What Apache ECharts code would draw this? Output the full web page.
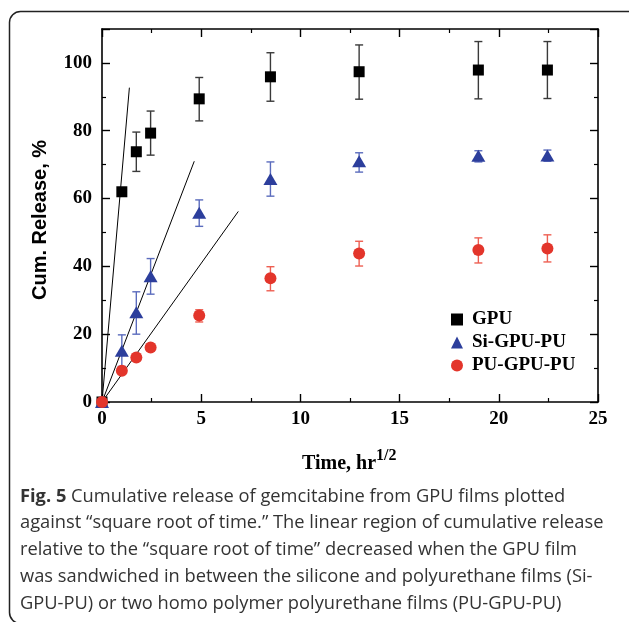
<!DOCTYPE html>
<html>
<head>
<meta charset="utf-8">
<script src="https://cdn.jsdelivr.net/npm/echarts@6/dist/echarts.min.js"></script>
<style>
html,body{margin:0;padding:0;background:#fff;}
#c{width:629px;height:622px;}
</style>
</head>
<body>
<div id="c"></div>
<script>
// sqrt(time) in hr^1/2
const xSqrt   = [0, 1, 1.73, 2.45, 4.90, 8.49, 12.96, 18.97, 22.45];
// GPU
const gpuMean = [0, 62.0, 73.8, 79.3, 89.4, 95.9, 97.4, 97.9, 97.9];
const gpuLow  = [0, 61.0, 68.0, 72.8, 82.9, 88.7, 89.3, 89.4, 89.5];
const gpuHigh = [0, 63.0, 79.6, 85.8, 95.7, 103.0, 105.3, 106.3, 106.3];
// Si-GPU-PU
const siMean  = [0, 15.1, 26.5, 37.1, 55.8, 65.8, 71.0, 72.6, 72.7];
const siLow   = [0, 10.5, 20.0, 31.8, 51.8, 60.7, 67.8, 70.8, 71.0];
const siHigh  = [0, 19.8, 32.5, 42.3, 59.6, 70.8, 73.5, 74.1, 74.3];
// PU-GPU-PU
const puMean  = [0, 9.2, 13.1, 16.1, 25.5, 36.5, 43.8, 44.8, 45.3];
const puLow   = [0, 8.5, 12.5, 15.5, 23.6, 32.8, 40.1, 41.0, 41.3];
const puHigh  = [0, 10.0, 13.8, 16.8, 27.2, 39.9, 47.4, 48.4, 49.3];
// linear fit segments (start, end)
const fitGpuX = [0, 1.38], fitGpuY = [0, 92.7];
const fitSiX  = [0, 4.65], fitSiY  = [0, 71.0];
const fitPuX  = [0, 6.87], fitPuY  = [0, 56.2];
// axis ticks
const xTicks = [0, 5, 10, 15, 20, 25];
const yTicks = [0, 20, 40, 60, 80, 100];
const seriesNames = ['GPU', 'Si-GPU-PU', 'PU-GPU-PU'];

const chart = echarts.init(document.getElementById('c'), null, {renderer: 'canvas'});
const serif = '"Liberation Serif", "Times New Roman", serif';
const capFont = '"Open Sans", "Noto Sans", sans-serif';

function pts(xs, ys) { return xs.map((x, i) => [x, ys[i]]); }
function errData(xs, lo, hi) { return xs.map((x, i) => [x, lo[i], hi[i]]); }
function errSeries(data, color) {
  return {
    type: 'custom', data: data, z: 2, silent: true,
    renderItem: function (params, api) {
      const x = api.value(0);
      const p1 = api.coord([x, api.value(1)]);
      const p2 = api.coord([x, api.value(2)]);
      const w = 4;
      const st = {stroke: color, lineWidth: 1.4};
      return {type: 'group', children: [
        {type: 'line', shape: {x1: p1[0], y1: p1[1], x2: p2[0], y2: p2[1]}, style: st},
        {type: 'line', shape: {x1: p1[0]-w, y1: p1[1], x2: p1[0]+w, y2: p1[1]}, style: st},
        {type: 'line', shape: {x1: p2[0]-w, y1: p2[1], x2: p2[0]+w, y2: p2[1]}, style: st}
      ]};
    }
  };
}
function fitSeries(xs, ys) {
  return {type: 'line', data: pts(xs, ys), symbol: 'none', silent: true, z: 3,
    lineStyle: {color: '#000', width: 1}};
}

const axisCommon = {
  axisLine: {show: true, onZero: false, lineStyle: {color: '#000', width: 1.6}},
  splitLine: {show: false},
  axisTick: {show: true, inside: true, length: 8, lineStyle: {color: '#000', width: 1.4}},
  minorTick: {show: true, splitNumber: 2, length: 4, lineStyle: {color: '#000', width: 1.2}}
};

const option = {
  animation: false,
  backgroundColor: '#fff',
  grid: {left: 102, top: 29, right: 31, bottom: 220, containLabel: false},
  xAxis: [
    Object.assign({type: 'value', min: xTicks[0], max: xTicks[xTicks.length-1], interval: 5, position: 'bottom',
      axisLabel: {color: '#000', fontFamily: serif, fontWeight: 'bold', fontSize: 19, margin: 8}}, axisCommon),
    Object.assign({type: 'value', min: xTicks[0], max: xTicks[xTicks.length-1], interval: 5, position: 'top',
      axisLabel: {show: false}}, axisCommon)
  ],
  yAxis: [
    Object.assign({type: 'value', min: 0, max: 110, interval: 20, position: 'left',
      axisLabel: {color: '#000', fontFamily: serif, fontWeight: 'bold', fontSize: 19, margin: 10, showMaxLabel: false,
        formatter: v => yTicks.indexOf(v) >= 0 ? String(v) : ''}}, axisCommon),
    Object.assign({type: 'value', min: 0, max: 110, interval: 20, position: 'right',
      axisLabel: {show: false}}, axisCommon)
  ],
  legend: {
    data: seriesNames, orient: 'vertical', left: 446, top: 305,
    itemWidth: 12, itemHeight: 12, itemGap: 4,
    textStyle: {color: '#000', fontFamily: serif, fontWeight: 'bold', fontSize: 19, padding: [0, 0, 0, 4]}
  },
  graphic: [
    {type: 'rect', shape: {x: 9.5, y: 11.5, width: 660, height: 612, r: [11, 0, 0, 11]},
      style: {fill: 'none', stroke: '#222', lineWidth: 1.5}, silent: true},
    {type: 'text', x: 40, y: 220, rotation: Math.PI/2,
      style: {text: 'Cum. Release, %', font: 'bold 20px "Liberation Sans", Arial, sans-serif', fill: '#000',
        textAlign: 'center', textVerticalAlign: 'middle'}, silent: true},
    {type: 'text', x: 302, y: 446,
      style: {rich: {
        a: {font: 'bold 20px ' + serif, fill: '#000', padding: [8, 0, 0, 0]},
        s: {font: 'bold 16px ' + serif, fill: '#000', padding: [0, 0, 8, 0]}
      }, text: '{a|Time, hr}{s|1/2}'}, silent: true},
    {type: 'text', x: 20, y: 483,
      style: {
        text: '{b|Fig. 5} Cumulative release of gemcitabine from GPU films plotted\n' +
              'against \u201csquare root of time.\u201d The linear region of cumulative release\n' +
              'relative to the \u201csquare root of time\u201d decreased when the GPU film\n' +
              'was sandwiched in between the silicone and polyurethane films (Si-\n' +
              'GPU-PU) or two homo polymer polyurethane films (PU-GPU-PU)',
        font: '18.3px ' + capFont, fill: '#333', lineHeight: 26.8,
        rich: {b: {font: 'bold 18.3px ' + capFont, fill: '#333', lineHeight: 26.8}}
      }, silent: true}
  ],
  series: [
    fitSeries(fitGpuX, fitGpuY),
    fitSeries(fitSiX, fitSiY),
    fitSeries(fitPuX, fitPuY),
    errSeries(errData(xSqrt, gpuLow, gpuHigh), '#3a3a3a'),
    errSeries(errData(xSqrt, siLow, siHigh), '#5b6cbd'),
    errSeries(errData(xSqrt, puLow, puHigh), '#ee5f52'),
    {name: seriesNames[0], type: 'scatter', data: pts(xSqrt, gpuMean), symbol: 'rect', symbolSize: 11, z: 5,
      itemStyle: {color: '#000', opacity: 1}},
    {name: seriesNames[1], type: 'scatter', data: pts(xSqrt, siMean), symbol: 'triangle', symbolSize: [14, 12], z: 5,
      itemStyle: {color: '#2c3e9c', opacity: 1}},
    {name: seriesNames[2], type: 'scatter', data: pts(xSqrt, puMean), symbol: 'circle', symbolSize: 12, z: 5,
      itemStyle: {color: '#e3352b', opacity: 1}}
  ]
};
chart.setOption(option);
</script>
</body>
</html>
